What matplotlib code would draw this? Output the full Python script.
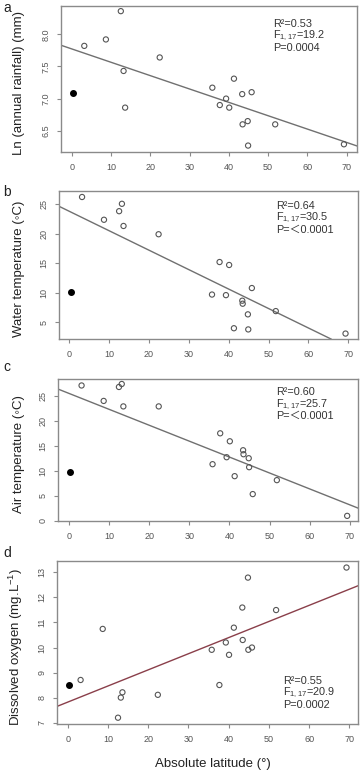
import matplotlib
matplotlib.use('Agg')
import matplotlib.pyplot as plt

plt.rcParams['font.family'] = ['Liberation Sans', 'DejaVu Sans', 'Noto Sans CJK SC']
plt.rcParams['mathtext.fontset'] = 'custom'
plt.rcParams['mathtext.rm'] = 'Liberation Sans'
plt.rcParams['mathtext.it'] = 'Liberation Sans'

# absolute latitude of the sites (first one is the filled point)
latitude = [0.3, 3.2, 8.7, 12.5, 13.2, 13.6, 22.4, 35.8, 37.7, 39.3, 40.1,
            41.3, 43.4, 43.5, 44.8, 44.9, 45.8, 51.8, 69.3]

rainfall = [7.09, 7.82, 7.92, 8.36, 7.43, 6.86, 7.64, 7.17, 6.90, 7.00, 6.86,
            7.31, 7.07, 6.60, 6.65, 6.27, 7.10, 6.60, 6.29]
water_temp = [10.2, 26.2, 22.35, 23.8, 25.05, 21.3, 19.9, 9.7, 15.2, 9.6, 14.7,
              4.0, 8.66, 8.15, 6.35, 3.8, 10.8, 6.9, 3.1]
air_temp = [9.67, 27.1, 24.0, 26.8, 27.4, 22.9, 22.9, 11.3, 17.5, 12.7, 15.9,
            8.9, 14.1, 13.3, 12.5, 10.7, 5.3, 8.1, 0.93]
oxygen = [8.50, 8.71, 10.74, 7.21, 8.01, 8.22, 8.12, 9.91, 8.51, 10.20, 9.71,
          10.79, 11.59, 10.30, 12.78, 9.91, 10.0, 11.49, 13.18]

# fitted lines (intercept, slope) and stats text
fits = [(7.773, -0.02078), (23.78, -0.329), (25.53, -0.320), (7.83, 0.0641)]
r2 = ['0.53', '0.64', '0.60', '0.55']
fstat = ['19.2', '30.5', '25.7', '20.9']
pval = ['0.0004', '\uff1c0.0001', '\uff1c0.0001', '0.0002']

ylabels = ['Ln (annual rainfall) (mm)', 'Water temperature (\u25e6C)',
           'Air temperature (\u25e6C)', 'Dissolved oxygen (mg.L$^{-1}$)']
letters = ['a', 'b', 'c', 'd']
yticks = [[6.5, 7.0, 7.5, 8.0], [5, 10, 15, 20, 25], [0, 5, 10, 15, 20, 25],
          [7, 8, 9, 10, 11, 12, 13]]
yticklabels = [['6.5', '7.0', '7.5', '8.0'], None, None, None]
series = [rainfall, water_temp, air_temp, oxygen]

W, H = 360, 770
fig = plt.figure(figsize=(W / 100, H / 100), dpi=100)

# panel boxes in pixels: left, right, top, bottom
boxes = [(61.3, 357.5, 6, 152), (59.3, 358, 190.5, 339),
         (58.3, 358.3, 379, 521), (57.3, 358, 561, 724)]
xlims = [(-2.65, 72.75), (-2.51, 72.43), (-2.59, 72.07), (-2.59, 72.16)]
ylims = [(6.17, 8.44), (2.18, 27.3), (-0.1, 28.4), (6.96, 13.44)]
line_colors = ['#707070', '#707070', '#707070', '#8a3f4a']
stats_pos = [(272.7, 24), (276, 205.7), (276, 392.3), (282.7, 681)]
letter_pos = [(3, 8), (3, 192), (3, 367), (3, 553)]

grey = '#8a8a8a'
for i in range(4):
    l, r, t, b = boxes[i]
    ax = fig.add_axes([l / W, 1 - b / H, (r - l) / W, (b - t) / H])
    y = series[i]
    ax.scatter(latitude[1:], y[1:], s=14, facecolors='none',
               edgecolors='#555555', linewidths=0.8, zorder=3)
    ax.scatter(latitude[:1], y[:1], s=16, color='black', zorder=3)
    a0, a1 = fits[i]
    ax.axline((0, a0), slope=a1, color=line_colors[i], lw=1.0, zorder=2)
    ax.set_xlim(*xlims[i])
    ax.set_ylim(*ylims[i])
    ax.set_xticks(range(0, 80, 10))
    ax.set_yticks(yticks[i])
    if yticklabels[i] is not None:
        ax.set_yticklabels(yticklabels[i])
    for lab in ax.get_yticklabels():
        lab.set_rotation(90)
        lab.set_va('center')
    for sp in ax.spines.values():
        sp.set_color(grey)
        sp.set_linewidth(1.0)
    ax.tick_params(direction='out', length=3, width=0.8, color=grey,
                   labelsize=6.5, labelcolor='#555555', pad=5)
    ax.set_ylabel(ylabels[i], fontsize=9.5, color='#222222', labelpad=4)
    ax.yaxis.set_label_coords(-(l - 25) / (r - l), 0.47)

    sx, sy = stats_pos[i]
    fig.text(sx / W, 1 - sy / H, 'R\u00b2=' + r2[i], fontsize=7.8,
             va='center', color='#333333')
    fig.text(sx / W, 1 - (sy + 12.3) / H, 'F$_{1,17}$=' + fstat[i],
             fontsize=7.8, va='center', color='#333333')
    fig.text(sx / W, 1 - (sy + 24) / H, 'P=' + pval[i], fontsize=7.8,
             va='center', color='#333333')
    lx, ly = letter_pos[i]
    fig.text(lx / W, 1 - ly / H, letters[i], fontsize=10, va='center',
             color='#222222')

fig.text(213 / W, 1 - 764 / H, 'Absolute latitude (\u00b0)', fontsize=9.5,
         ha='center', va='center', color='#222222')

fig.savefig('out.png', dpi=100)
